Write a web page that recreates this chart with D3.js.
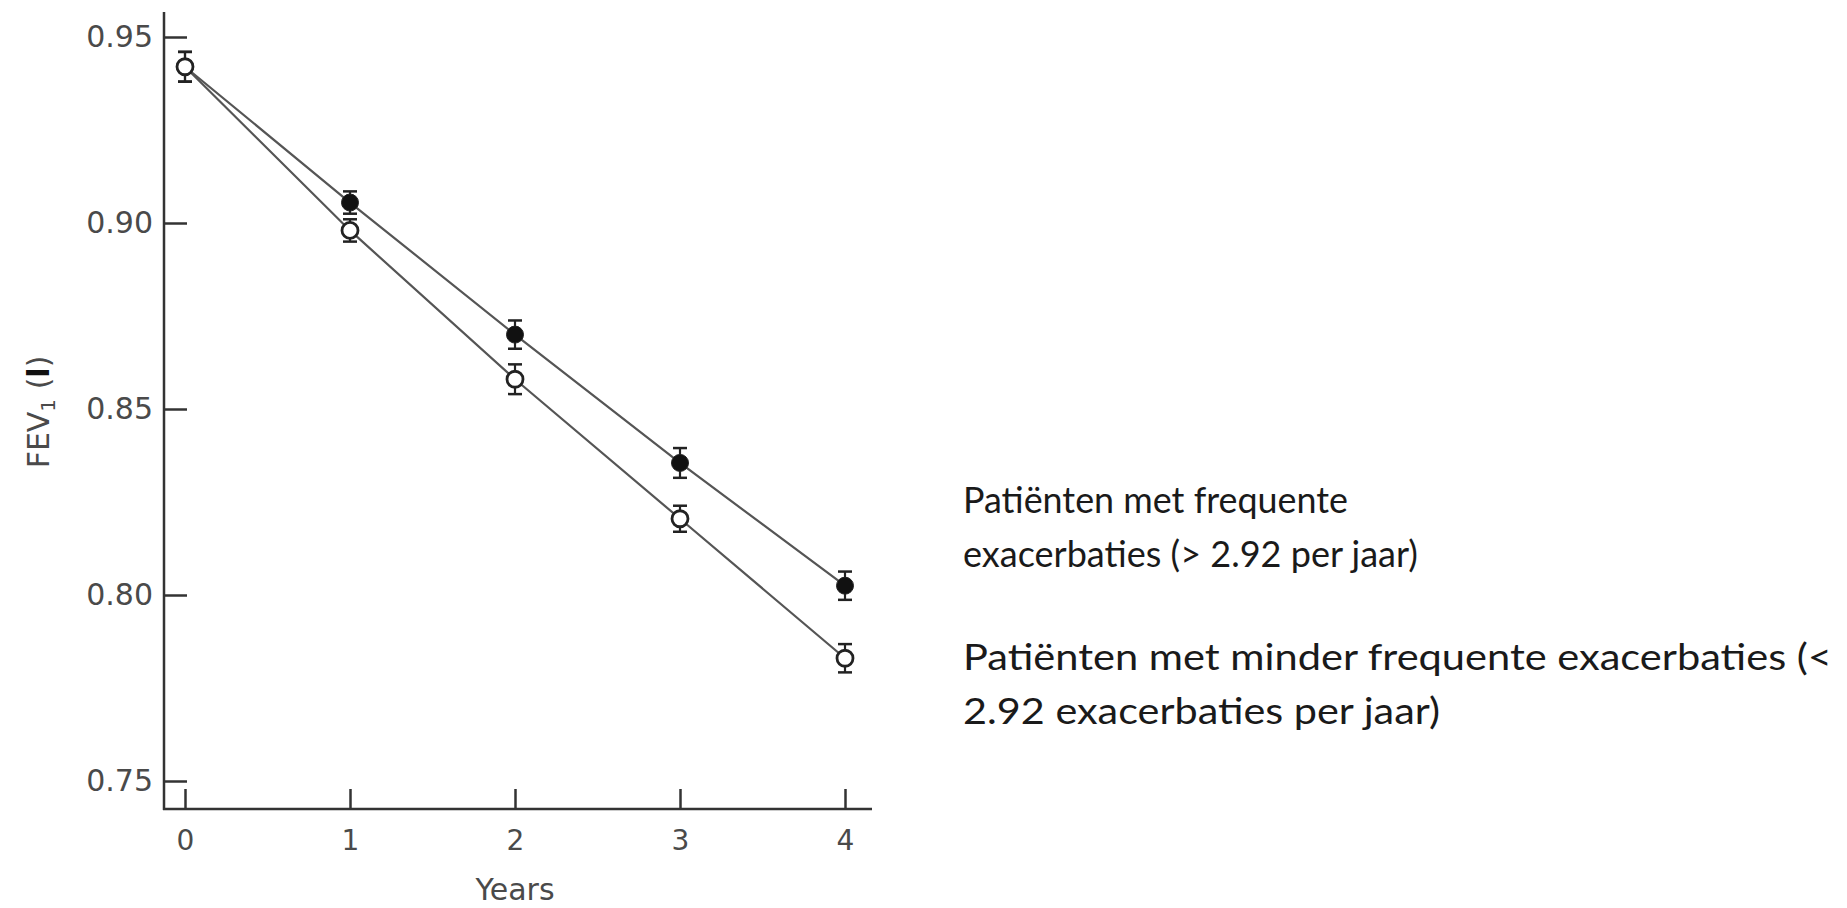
<!DOCTYPE html>
<html>
<head>
<meta charset="utf-8">
<script src="https://cdn.jsdelivr.net/npm/d3@7"></script>
<style>
  html, body { margin: 0; padding: 0; background: #fff; }
  svg { display: block; }
</style>
</head>
<body>
<div id="chart"></div>
<script>
// Data
const years = [0, 1, 2, 3, 4];
const frequentFEV = [0.942, 0.9055, 0.870, 0.8355, 0.8025];
const frequentErr = [0.004, 0.003, 0.0038, 0.004, 0.0038];
const lessFEV = [0.942, 0.898, 0.858, 0.8205, 0.783];
const lessErr = [0.004, 0.003, 0.004, 0.0035, 0.0038];
const yTicks = [0.75, 0.80, 0.85, 0.90, 0.95];
const legendLines = [
    "Patiënten met frequente",
    "exacerbaties (> 2.92 per jaar)",
    "Patiënten met minder frequente exacerbaties (<",
    "2.92 exacerbaties per jaar)"
];

const W = 1847, H = 908;

const svg = d3.select("#chart")
    .append("svg")
    .attr("width", W)
    .attr("height", H);

// Scales
const x = d3.scaleLinear().domain([0, 4]).range([185, 845]);
const y = d3.scaleLinear().domain([0.75, 0.95]).range([781, 37]);

const axisColor = "#333";
const labelColor = "#4a4a4a";
const axisFont = "'DejaVu Sans', sans-serif";

// Axis lines (frame starts left of x=0 and runs past 0.95)
svg.append("line")
    .attr("x1", 164).attr("x2", 164)
    .attr("y1", 12).attr("y2", 810)
    .attr("stroke", axisColor).attr("stroke-width", 2.5);
svg.append("line")
    .attr("x1", 163).attr("x2", 872)
    .attr("y1", 809).attr("y2", 809)
    .attr("stroke", axisColor).attr("stroke-width", 2.5);

// Y axis ticks (pointing inward)
const yAxis = svg.append("g")
    .attr("transform", "translate(164,0)")
    .call(d3.axisLeft(y).tickValues(yTicks).tickSize(-23).tickPadding(11).tickFormat(d3.format(".2f")));
yAxis.select(".domain").remove();
yAxis.selectAll(".tick line").attr("stroke", axisColor).attr("stroke-width", 2.5);
yAxis.selectAll(".tick text")
    .attr("fill", labelColor)
    .style("font-family", axisFont)
    .style("font-size", "30px");

// X axis ticks (pointing up)
const xAxis = svg.append("g")
    .attr("transform", "translate(0,809)")
    .call(d3.axisBottom(x).tickValues(years).tickSize(-20).tickPadding(21).tickFormat(d3.format("d")));
xAxis.select(".domain").remove();
xAxis.selectAll(".tick line").attr("stroke", axisColor).attr("stroke-width", 2.5);
xAxis.selectAll(".tick text")
    .attr("fill", labelColor)
    .style("font-family", axisFont)
    .style("font-size", "28px");

// Axis titles
svg.append("text")
    .attr("x", x(2))
    .attr("y", 900)
    .attr("text-anchor", "middle")
    .attr("fill", labelColor)
    .style("font-family", axisFont)
    .style("font-size", "30px")
    .text("Years");

const yTitle = svg.append("text")
    .attr("transform", "translate(49,412) rotate(-90)")
    .attr("text-anchor", "middle")
    .attr("fill", labelColor)
    .style("font-family", axisFont)
    .style("font-size", "30px");
yTitle.append("tspan").text("FEV");
yTitle.append("tspan").attr("dy", 6).style("font-size", "20px").text("1");
yTitle.append("tspan").attr("dy", -6).text(" (");
yTitle.append("tspan").style("font-weight", "bold").attr("fill", "#111").text("l");
yTitle.append("tspan").text(")");

// Series
const series = [
    { name: "frequent", values: frequentFEV, err: frequentErr, filled: true },
    { name: "less", values: lessFEV, err: lessErr, filled: false }
];

const line = d3.line()
    .x(d => x(d.year))
    .y(d => y(d.v));

series.forEach(s => {
    s.points = years.map((yr, i) => ({ year: yr, v: s.values[i], e: s.err[i] }));
});

// Lines
svg.append("g")
    .selectAll("path")
    .data(series)
    .enter()
    .append("path")
    .attr("d", d => line(d.points))
    .attr("fill", "none")
    .attr("stroke", "#555")
    .attr("stroke-width", 2.2);

// Error bars and markers
series.forEach(s => {
    const g = svg.append("g");
    const eb = g.selectAll(".eb")
        .data(s.points)
        .enter()
        .append("g");
    eb.append("line")
        .attr("x1", d => x(d.year)).attr("x2", d => x(d.year))
        .attr("y1", d => y(d.v + d.e)).attr("y2", d => y(d.v - d.e))
        .attr("stroke", "#222").attr("stroke-width", 2.2);
    eb.append("line")
        .attr("x1", d => x(d.year) - 7).attr("x2", d => x(d.year) + 7)
        .attr("y1", d => y(d.v + d.e)).attr("y2", d => y(d.v + d.e))
        .attr("stroke", "#222").attr("stroke-width", 2.5);
    eb.append("line")
        .attr("x1", d => x(d.year) - 7).attr("x2", d => x(d.year) + 7)
        .attr("y1", d => y(d.v - d.e)).attr("y2", d => y(d.v - d.e))
        .attr("stroke", "#222").attr("stroke-width", 2.5);

    g.selectAll("circle")
        .data(s.points)
        .enter()
        .append("circle")
        .attr("cx", d => x(d.year))
        .attr("cy", d => y(d.v))
        .attr("r", s.filled ? 8.5 : 8)
        .attr("fill", s.filled ? "#111" : "#fff")
        .attr("stroke", "#222")
        .attr("stroke-width", s.filled ? 1 : 2.8);
});

// Legend text (no markers in the original, just the two descriptions)
const legendX = 963;
const legendBaselines = [513, 567, 670, 724];
const legendWidths = [385, 455, 869, 477];
svg.append("g")
    .selectAll("text")
    .data(legendLines)
    .enter()
    .append("text")
    .attr("x", legendX)
    .attr("y", (d, i) => legendBaselines[i])
    .attr("textLength", (d, i) => legendWidths[i])
    .attr("lengthAdjust", "spacingAndGlyphs")
    .attr("fill", "#1a1a1a")
    .style("font-family", "Lato, 'Open Sans', sans-serif")
    .style("font-size", "36px")
    .text(d => d);
</script>
</body>
</html>
